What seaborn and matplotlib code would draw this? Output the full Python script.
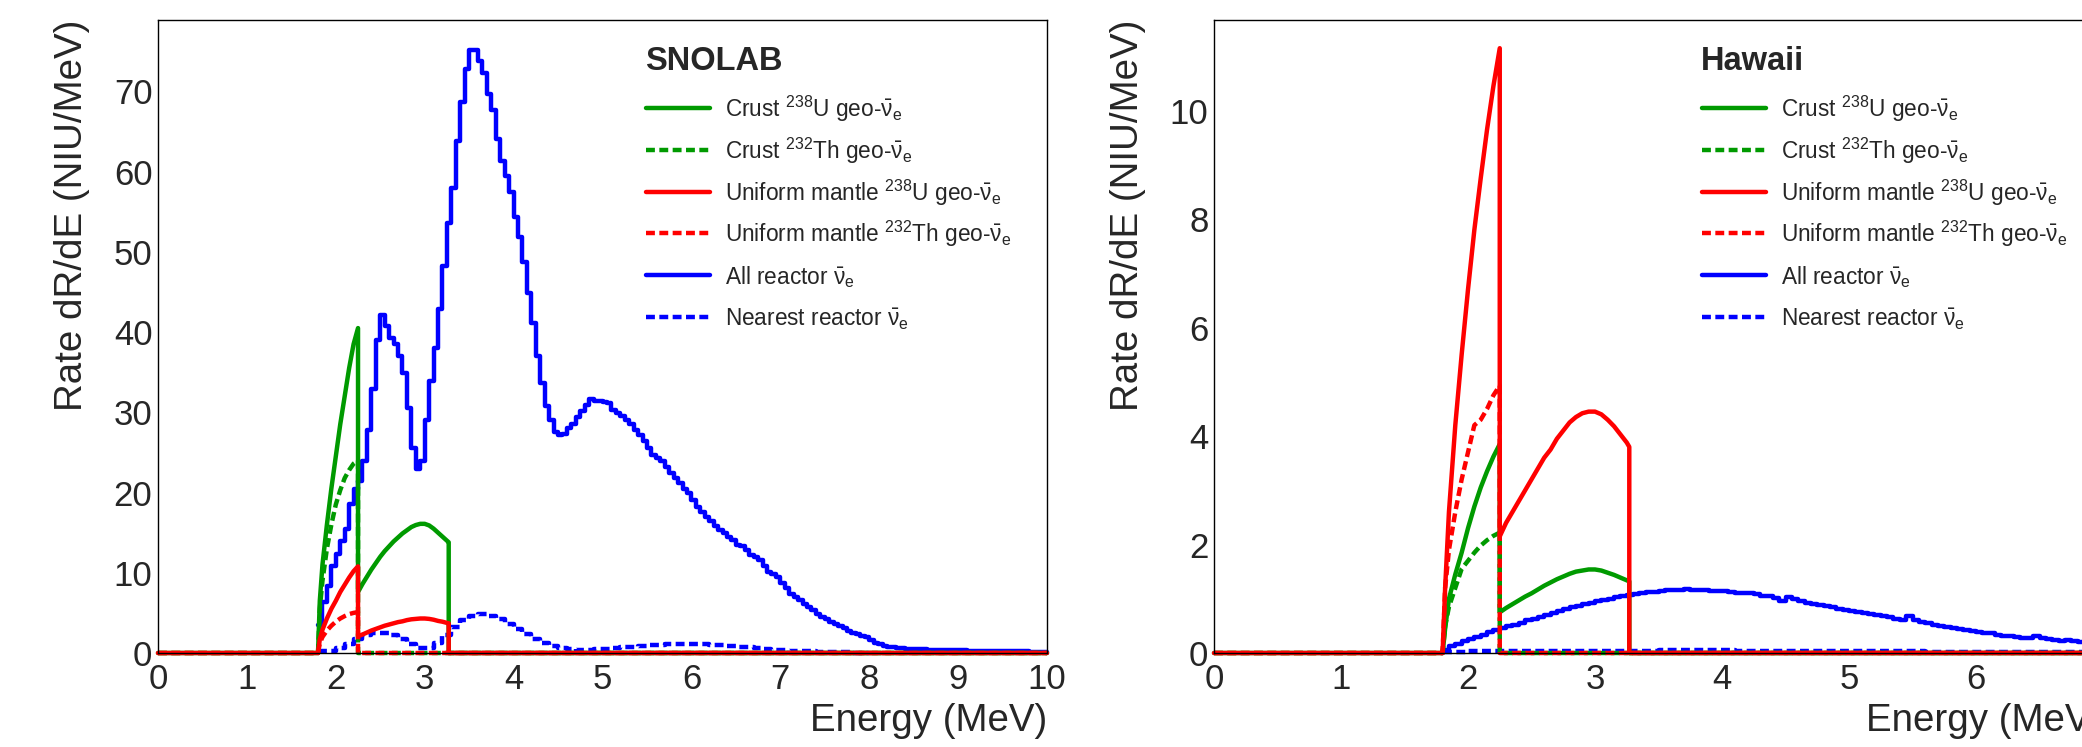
import numpy as np
import matplotlib
matplotlib.use("Agg")
import matplotlib.pyplot as plt
import seaborn as sns
from matplotlib.lines import Line2D
from matplotlib.ticker import MultipleLocator

sns.set_style("white")
plt.rcParams["font.family"] = ["Liberation Sans", "DejaVu Sans"]
plt.rcParams["mathtext.fontset"] = "custom"
plt.rcParams["mathtext.rm"] = "Liberation Sans"
plt.rcParams["mathtext.it"] = "Liberation Sans:italic"
plt.rcParams["mathtext.bf"] = "Liberation Sans:bold"

# ---------------- data ----------------
# reactor histograms: first bin starts at 1.80 MeV
reac_start = 1.80
all_bin = 0.05
near_bin = 0.10

snolab_all = [3.5, 6.3, 8.3, 10.9, 12.4, 14.0, 15.5, 18.6, 20.5,
              21.4, 23.9, 27.8, 32.9, 39.0,
              42.1, 40.8, 39.3, 38.5, 37.0, 34.9, 30.6, 25.5, 22.9, 23.9,
              29.1, 33.9, 38.0, 42.9, 48.2, 53.6, 58.0, 63.8, 68.7, 72.8,
              75.1, 75.1, 73.8, 72.3, 69.7, 67.7, 64.1, 61.3, 59.5, 57.4,
              54.4, 51.8, 48.7, 44.9, 41.1, 37.0, 33.7, 30.8, 29.1, 27.5,
              27.2, 27.3, 28.0, 28.6, 29.4, 30.2, 30.9, 31.6, 31.4, 31.4,
              31.3, 31.2, 30.3, 29.9, 29.5, 29.1, 28.6, 27.8, 27.2, 26.4,
              25.5, 24.7, 24.3, 23.9, 23.2, 22.4, 21.8, 21.2, 20.5, 19.9,
              19.1, 18.2, 17.6, 17.0, 16.4, 15.8, 15.3, 14.9, 14.5, 14.1,
              13.5, 13.3, 12.8, 12.2, 12.0, 11.6, 10.8, 10.1, 9.9, 9.5,
              8.7, 8.1, 7.4, 7.0, 6.6, 6.1, 5.7, 5.3, 4.9, 4.5,
              4.2, 3.9, 3.6, 3.4, 3.1, 2.8, 2.5, 2.4, 2.1, 2.0,
              1.6, 1.3, 1.1, 0.9, 0.8, 0.7, 0.65, 0.6, 0.55, 0.5,
              0.48, 0.46, 0.44, 0.42, 0.4, 0.39, 0.38, 0.36, 0.35, 0.34,
              0.33, 0.32, 0.31, 0.3, 0.29, 0.28, 0.27, 0.26, 0.25, 0.24,
              0.23, 0.22, 0.21, 0.2, 0.2, 0.19, 0.18, 0.17, 0.17, 0.16]

snolab_near = [0.2, 0.3, 0.6, 1.1, 1.7, 2.2, 2.5, 2.5, 2.2, 1.7,
               1.1, 0.6, 0.6, 1.2, 2.2, 3.2, 4.1, 4.6, 4.8, 4.6,
               4.2, 3.6, 3.0, 2.4, 1.8, 1.3, 0.9, 0.6, 0.45, 0.4,
               0.4, 0.45, 0.5, 0.6, 0.7, 0.8, 0.9, 1.0, 1.05, 1.1,
               1.15, 1.15, 1.15, 1.1, 1.05, 1.0, 0.9, 0.8, 0.7, 0.6,
               0.5, 0.4, 0.35, 0.3, 0.25, 0.2, 0.15, 0.12, 0.1, 0.08,
               0.06, 0.05]

hawaii_all = [0.05, 0.12, 0.17, 0.22, 0.26, 0.30, 0.34, 0.38, 0.42, 0.46,
              0.49, 0.52, 0.56, 0.60, 0.63, 0.67, 0.70, 0.74, 0.77, 0.81,
              0.84, 0.87, 0.90, 0.93, 0.96, 0.98, 1.00, 1.03, 1.05, 1.07,
              1.09, 1.11, 1.12, 1.13, 1.15, 1.16, 1.17, 1.16, 1.18, 1.17,
              1.16, 1.17, 1.15, 1.14, 1.14, 1.13, 1.11, 1.10, 1.10, 1.08,
              1.06, 1.05, 1.02, 0.95, 1.04, 0.99, 0.95, 0.93, 0.91, 0.88,
              0.86, 0.84, 0.82, 0.80, 0.78, 0.76, 0.74, 0.72, 0.70, 0.68,
              0.66, 0.63, 0.61, 0.68, 0.60, 0.57, 0.55, 0.52, 0.50, 0.48,
              0.46, 0.44, 0.42, 0.41, 0.39, 0.37, 0.36, 0.34, 0.32, 0.31,
              0.30, 0.28, 0.27, 0.31, 0.27, 0.25, 0.24, 0.23, 0.24, 0.22,
              0.20, 0.19, 0.18, 0.17, 0.16]

hawaii_near = [0.02, 0.02, 0.03, 0.03, 0.03, 0.03, 0.03, 0.03, 0.03, 0.03,
               0.03, 0.03, 0.03, 0.03, 0.03, 0.04, 0.04, 0.05, 0.05, 0.05,
               0.05, 0.05, 0.05, 0.04, 0.04, 0.04, 0.04, 0.04, 0.04, 0.04,
               0.03, 0.03, 0.03, 0.03, 0.03, 0.03, 0.03, 0.03, 0.02, 0.02,
               0.02, 0.02, 0.02, 0.02, 0.02, 0.02, 0.02, 0.02, 0.01, 0.01,
               0.01, 0.01]

# geo-neutrino curves: below and above the 2.25 MeV step
e_low = [1.80, 1.82, 1.85, 1.90, 1.95, 2.00, 2.05, 2.10, 2.15, 2.20, 2.25]
e_high = [2.25, 2.30, 2.35, 2.40, 2.45, 2.50, 2.55, 2.60, 2.65, 2.70, 2.75,
          2.80, 2.85, 2.90, 2.95, 3.00, 3.05, 3.10, 3.15, 3.20, 3.25, 3.27]

snolab_crust_u_lo = [0, 6.5, 11.0, 16.0, 20.5, 24.5, 28.5, 32.0, 35.5, 38.5, 40.5]
snolab_crust_u_hi = [7.6, 8.6, 9.5, 10.4, 11.2, 12.0, 12.7, 13.3, 13.9, 14.4, 14.9,
                     15.3, 15.7, 15.95, 16.1, 16.1, 15.9, 15.5, 15.0, 14.5, 14.0, 13.8]
snolab_crust_th = [0, 5.5, 9.0, 13.0, 16.0, 18.5, 20.3, 21.8, 22.8, 23.6, 24.0]
snolab_mantle_u_lo = [0, 1.7, 2.9, 4.3, 5.5, 6.5, 7.6, 8.5, 9.4, 10.2, 10.8]
snolab_mantle_u_hi = [2.1, 2.3, 2.55, 2.8, 3.0, 3.2, 3.4, 3.55, 3.7, 3.85, 3.95,
                      4.1, 4.2, 4.25, 4.3, 4.3, 4.25, 4.15, 4.0, 3.9, 3.75, 3.7]
snolab_mantle_th = [0, 1.2, 2.0, 2.8, 3.4, 3.9, 4.3, 4.6, 4.85, 5.0, 5.1]

hawaii_crust_u_lo = [0, 0.45, 1.0, 1.45, 1.85, 2.3, 2.7, 3.05, 3.35, 3.62, 3.85]
hawaii_crust_u_hi = [0.75, 0.83, 0.9, 0.97, 1.04, 1.1, 1.17, 1.24, 1.3, 1.36, 1.41,
                     1.46, 1.5, 1.52, 1.54, 1.54, 1.52, 1.48, 1.44, 1.39, 1.34, 1.32]
hawaii_crust_th = [0, 0.5, 0.85, 1.2, 1.55, 1.7, 1.85, 1.98, 2.08, 2.16, 2.22]
hawaii_mantle_u_lo = [0, 1.2, 2.6, 4.2, 5.5, 6.7, 7.8, 8.75, 9.65, 10.45, 11.15]
hawaii_mantle_u_hi = [2.15, 2.4, 2.6, 2.8, 3.0, 3.2, 3.4, 3.6, 3.75, 3.95, 4.1,
                      4.25, 4.35, 4.42, 4.45, 4.45, 4.4, 4.3, 4.18, 4.03, 3.88, 3.8]
hawaii_mantle_th = [0, 1.2, 1.9, 2.6, 3.2, 3.7, 4.2, 4.3, 4.5, 4.75, 4.93]

labels = [r"Crust $^{238}$U geo-$\bar{\mathrm{\nu}}_{\mathrm{e}}$",
          r"Crust $^{232}$Th geo-$\bar{\mathrm{\nu}}_{\mathrm{e}}$",
          r"Uniform mantle $^{238}$U geo-$\bar{\mathrm{\nu}}_{\mathrm{e}}$",
          r"Uniform mantle $^{232}$Th geo-$\bar{\mathrm{\nu}}_{\mathrm{e}}$",
          r"All reactor $\bar{\mathrm{\nu}}_{\mathrm{e}}$",
          r"Nearest reactor $\bar{\mathrm{\nu}}_{\mathrm{e}}$"]

GREEN = "#009a00"
RED = "#ff0000"
BLUE = "#0000ff"
LW = 3.2
DASH = (0, (2, 1))

W, H = 2082, 747
fig = plt.figure(figsize=(W / 100, H / 100), dpi=100)


def reactor_hist(ax, vals, width, ls):
    edges = reac_start + width * np.arange(len(vals) + 1)
    centers = edges[:-1] + width / 2
    sns.histplot(x=centers, weights=vals, bins=list(edges), element="step", fill=False,
                 color=BLUE, linewidth=LW, linestyle=ls, ax=ax, clip_on=False)


def u_curve(ax, lo, hi, color, xmax):
    x = [0.0] + e_low + e_high + [e_high[-1], xmax]
    y = [0.0] + lo + hi + [0.0, 0.0]
    sns.lineplot(x=x, y=y, estimator=None, sort=False, color=color, linewidth=LW,
                 ax=ax, clip_on=False)


def th_curve(ax, vals, color, xmax):
    x = [0.0] + e_low + [e_low[-1], xmax]
    y = [0.0] + vals + [0.0, 0.0]
    sns.lineplot(x=x, y=y, estimator=None, sort=False, color=color, linewidth=LW,
                 linestyle=DASH, ax=ax, clip_on=False)


def panel(left, site, all_vals, near_vals, cu_lo, cu_hi, cth, mu_lo, mu_hi, mth,
          xmax, ymax, ymaj, ymin):
    ax = fig.add_axes([left / W, 94 / H, 889 / W, 633 / H])
    reactor_hist(ax, all_vals, all_bin, "-")
    reactor_hist(ax, near_vals, near_bin, DASH)
    u_curve(ax, cu_lo, cu_hi, GREEN, xmax)
    th_curve(ax, cth, GREEN, xmax)
    u_curve(ax, mu_lo, mu_hi, RED, xmax)
    th_curve(ax, mth, RED, xmax)

    ax.set_xlim(0, xmax)
    ax.set_ylim(0, ymax)
    ax.xaxis.set_major_locator(MultipleLocator(1))
    ax.xaxis.set_minor_locator(MultipleLocator(0.2))
    ax.yaxis.set_major_locator(MultipleLocator(ymaj))
    ax.yaxis.set_minor_locator(MultipleLocator(ymin))
    ax.tick_params(which="both", direction="in", top=False, right=False,
                   width=1.0, color="black", labelsize=25)
    ax.tick_params(axis="y", which="major", length=18.7, pad=4)
    ax.tick_params(axis="y", which="minor", length=9.4)
    ax.tick_params(axis="x", which="major", length=13.7, pad=7)
    ax.tick_params(axis="x", which="minor", length=7.2)
    for s in ax.spines.values():
        s.set_color("black")
        s.set_linewidth(1.0)

    ax.set_xlabel("Energy (MeV)", fontsize=27.7, loc="right")
    ax.xaxis.set_label_coords(1.0, -0.079)
    ax.set_ylabel("Rate dR/dE (NIU/MeV)", fontsize=27.7, loc="top")
    ax.yaxis.set_label_coords(-0.076, 1.0)

    # legend block, ROOT style: title then one row per curve
    fig.text((left + 487) / W, 1 - 70 / H, site, fontsize=23.5,
             fontweight="bold", ha="left", va="baseline")
    styles = [(GREEN, "-"), (GREEN, DASH), (RED, "-"), (RED, DASH),
              (BLUE, "-"), (BLUE, DASH)]
    for i, ((col, ls), lab) in enumerate(zip(styles, labels)):
        yrow = 108.3 + 41.7 * i
        fig.add_artist(Line2D([(left + 488) / W, (left + 552) / W],
                              [1 - yrow / H, 1 - yrow / H],
                              transform=fig.transFigure, color=col, lw=LW, ls=ls))
        fig.text((left + 567) / W, 1 - (yrow + 9) / H, lab, fontsize=16.3,
                 ha="left", va="baseline")
    return ax


panel(158, "SNOLAB", snolab_all, snolab_near,
      snolab_crust_u_lo, snolab_crust_u_hi, snolab_crust_th,
      snolab_mantle_u_lo, snolab_mantle_u_hi, snolab_mantle_th,
      10, 78.9, 10, 2)
panel(1214, "Hawaii", hawaii_all, hawaii_near,
      hawaii_crust_u_lo, hawaii_crust_u_hi, hawaii_crust_th,
      hawaii_mantle_u_lo, hawaii_mantle_u_hi, hawaii_mantle_th,
      7, 11.67, 2, 0.5)

fig.savefig("out.png", dpi=100)
